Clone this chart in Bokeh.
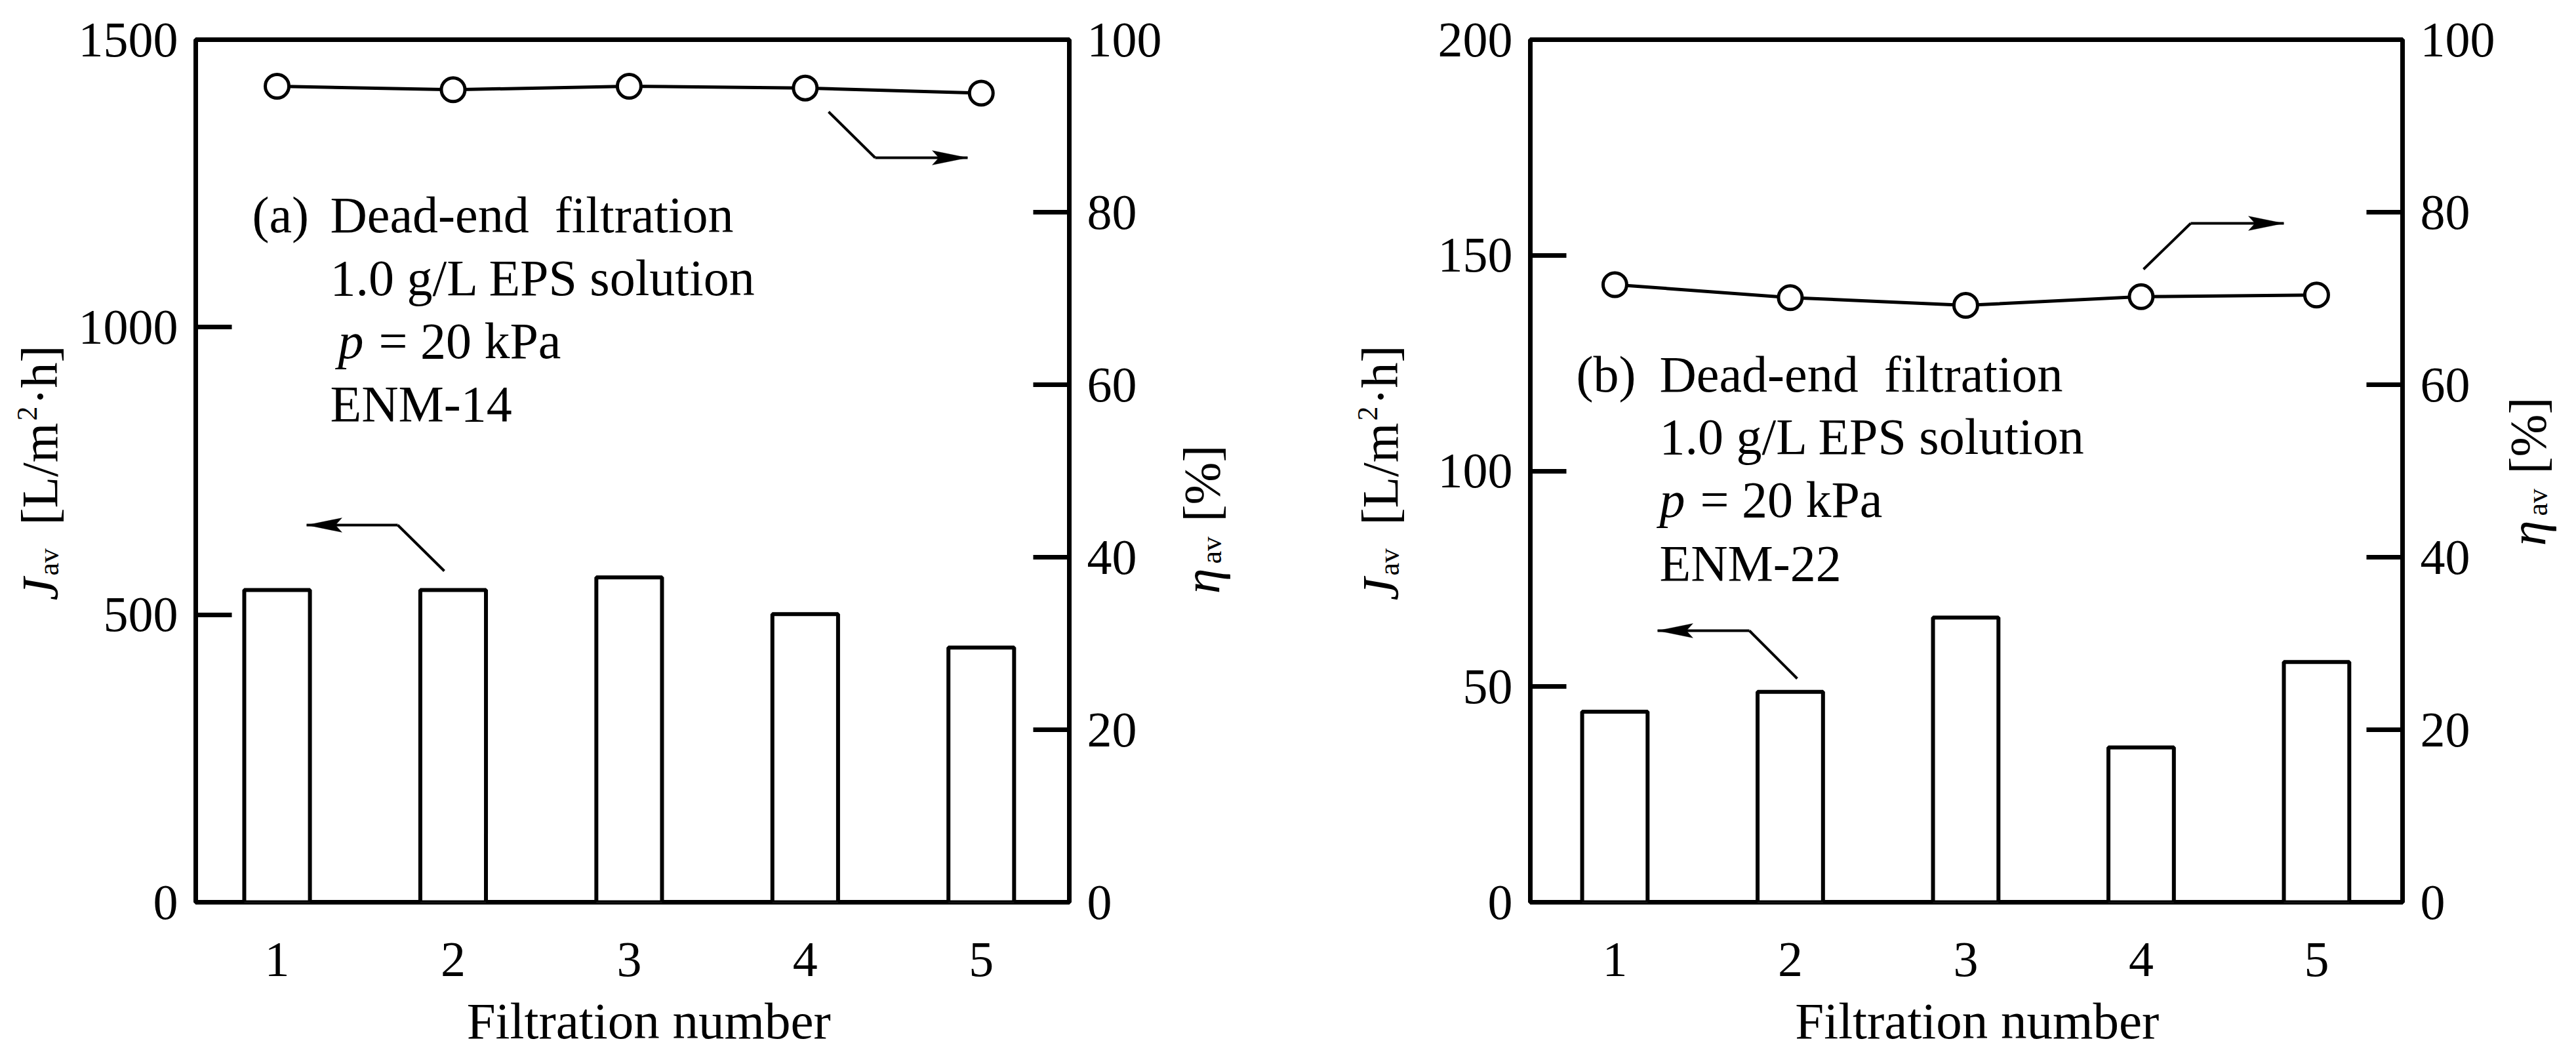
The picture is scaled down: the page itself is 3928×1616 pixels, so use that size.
import math
from bokeh.plotting import figure
from bokeh.models import Range1d, LinearAxis, FixedTicker, Label, Arrow, PolyAnnotation
from bokeh.layouts import row, column
from bokeh.embed import file_html
from bokeh.resources import INLINE

# ---------------- data ----------------
filtration_number = [1, 2, 3, 4, 5]
flux_a = [543, 543, 565, 501, 443]          # J_av [L/m2 h], ENM-14
eta_a = [94.6, 94.2, 94.6, 94.4, 93.8]      # eta_av [%], ENM-14
flux_b = [44.2, 48.8, 66.0, 35.9, 55.7]     # J_av [L/m2 h], ENM-22
eta_b = [71.6, 70.1, 69.2, 70.2, 70.4]      # eta_av [%], ENM-22
left_ticks_a = [0, 500, 1000, 1500]
left_ticks_b = [0, 50, 100, 150, 200]
right_ticks = [0, 20, 40, 60, 80, 100]
x_ticks = [1, 2, 3, 4, 5]

# ---------------- layout constants (page pixels) ----------------
FONT = "Liberation Serif"
TOTAL_H = 1612
BT = 60
FH = 1315
BB = 150
MAIN_H = BT + FH + BB
FRAME_BOTTOM = BT + FH
TICK_FS = 76
TXT_FS = 78
SUB_FS = 44
A90 = math.pi / 2
BASE_SHIFT = 0.3375   # label anchor -> alphabetic baseline offset (fraction of font size)

W_LA = 108
BL, BR = 190, 150
BLB = 150
FW_A, FW_B = 1332, 1330
W_PA = BL + FW_A + BR
W_RA = 403
W_PB = BLB + FW_B + BR
W_RB = 3924 - (W_LA + W_PA + W_RA + W_PB)

X_LA = 0
X_PA = X_LA + W_LA
X_RA = X_PA + W_PA
X_PB = X_RA + W_RA
X_RB = X_PB + W_PB


def label_fig(x0, y0, w, h):
    f = figure(width=w, height=h, x_range=Range1d(x0, x0 + w), y_range=Range1d(y0 + h, y0),
               output_backend="svg", toolbar_location=None, title=None,
               x_axis_location=None, y_axis_location=None, min_border=0)
    f.min_border_left = f.min_border_right = f.min_border_top = f.min_border_bottom = 0
    f.outline_line_color = None
    f.background_fill_color = "white"
    f.border_fill_color = "white"
    f.grid.visible = False
    return f


def put(f, x, y, text, size=TXT_FS, style="normal", rotated=False, align="left"):
    """(x, y): page position of the text's alphabetic baseline anchor."""
    off = BASE_SHIFT * size
    if rotated:
        ax, ay, ang = x - off, y, A90
    else:
        ax, ay, ang = x, y - off, 0.0
    f.add_layout(Label(x=ax, y=ay, text=text, angle=ang, text_font=FONT,
                       text_font_size=f"{size}px", text_font_style=style,
                       text_color="black", text_align=align, text_baseline="alphabetic"))


def j_label(f, bx):
    put(f, bx, 915, "J", style="italic", rotated=True)
    put(f, bx + 3, 877, "av", size=SUB_FS, rotated=True)
    put(f, bx, 800, "[L/m", rotated=True)
    put(f, bx - 30, 641, "2", size=SUB_FS, rotated=True)
    put(f, bx, 617, "\u00b7h]", rotated=True)


def eta_label(f, bx, y0):
    # pieces anchored at their upper ends (right-aligned along the reading direction)
    put(f, bx, y0 - 39, "\u03b7", style="italic", rotated=True, align="right")
    put(f, bx + 4, y0 - 46 - 41.5, "av", size=SUB_FS, rotated=True, align="right")
    put(f, bx, y0 - 110 - 117, "[%]", rotated=True, align="right")


def build(flux, eta, ymax, yticks, width, bl, br, page_x, xr, panel_tag, enm,
          text_x_tag, text_x, baselines, p_extra, arrows):
    fl = page_x + bl
    fw = width - bl - br
    x0, x1 = xr

    def dx(px):
        return x0 + (px - fl) / fw * (x1 - x0)

    def dy(py):
        return (FRAME_BOTTOM - py) / FH * ymax

    p = figure(width=width, height=MAIN_H, x_range=Range1d(*xr), y_range=Range1d(0, ymax),
               output_backend="svg", toolbar_location=None,
               min_border_left=bl, min_border_right=br, min_border_top=BT, min_border_bottom=BB)
    p.extra_y_ranges = {"eta": Range1d(0, 100)}
    p.background_fill_color = "white"
    p.border_fill_color = "white"
    p.xgrid.visible = False
    p.ygrid.visible = False
    p.outline_line_color = "black"
    p.outline_line_width = 7
    p.outline_line_alpha = 1.0

    p.vbar(x=filtration_number, top=flux, width=0.373, bottom=0,
           fill_color="white", line_color="black", line_width=6)
    p.line(x=filtration_number, y=eta, y_range_name="eta", line_color="black", line_width=5)
    p.scatter(x=filtration_number, y=eta, y_range_name="eta", size=36, marker="circle",
              fill_color="white", line_color="black", line_width=5)

    ra = LinearAxis(y_range_name="eta")
    p.add_layout(ra, "right")

    for ax, ticks in ((p.yaxis[0], yticks), (ra, right_ticks)):
        ax.ticker = FixedTicker(ticks=ticks)
        ax.major_tick_in = 55
        ax.major_tick_out = 0
        ax.minor_tick_in = 0
        ax.minor_tick_out = 0
        ax.major_tick_line_width = 7
        ax.major_tick_line_color = "black"
        ax.axis_line_color = None
        ax.major_label_standoff = 27
        ax.major_label_text_font = FONT
        ax.major_label_text_font_size = f"{TICK_FS}px"
        ax.major_label_text_color = "black"

    xa = p.xaxis[0]
    xa.ticker = FixedTicker(ticks=x_ticks)
    xa.major_tick_in = 0
    xa.major_tick_out = 0
    xa.minor_tick_in = 0
    xa.minor_tick_out = 0
    xa.axis_line_color = None
    xa.major_label_standoff = 62
    xa.major_label_text_font = FONT
    xa.major_label_text_font_size = f"{TICK_FS}px"
    xa.major_label_text_color = "black"

    off = BASE_SHIFT * TXT_FS

    def lab(px, py, text, style="normal"):
        p.add_layout(Label(x=dx(px), y=dy(py - off), text=text,
                           text_font=FONT, text_font_size=f"{TXT_FS}px", text_font_style=style,
                           text_color="black", text_align="left", text_baseline="alphabetic"))

    lab(text_x_tag, baselines[0], panel_tag)
    lab(text_x, baselines[0], "Dead-end\u00a0 filtration")
    lab(text_x, baselines[1], "1.0 g/L EPS solution")
    lab(text_x + p_extra, baselines[2], "p", style="italic")
    lab(text_x + p_extra + 62, baselines[2], "= 20 kPa")
    lab(text_x, baselines[3], enm)

    for (sx, sy), (kx, ky), (tx, ty) in arrows:
        p.add_layout(Arrow(end=None, x_start=dx(sx), y_start=dy(sy), x_end=dx(kx), y_end=dy(ky),
                           line_color="black", line_width=4))
        p.add_layout(Arrow(end=None, x_start=dx(kx), y_start=dy(ky), x_end=dx(tx), y_end=dy(ty),
                           line_color="black", line_width=4))
        d = 1 if tx > kx else -1
        hx = [tx, tx - d * 54, tx - d * 44, tx - d * 54]
        hy = [ty, ty - 11, ty, ty + 11]
        p.add_layout(PolyAnnotation(xs=[dx(v) for v in hx], ys=[dy(v) for v in hy],
                                    fill_color="black", fill_alpha=1.0,
                                    line_color="black", line_width=1))
    return p


pa = build(flux_a, eta_a, 1500, left_ticks_a, W_PA, BL, BR, X_PA, (0.538, 5.5), "(a)", "ENM-14",
           384, 503, [353, 449, 545, 641], 12,
           [((1263, 170), (1334, 240), (1475, 240)),
            ((677, 870), (606, 800), (467, 800))])
pb = build(flux_b, eta_b, 200, left_ticks_b, W_PB, BLB, BR, X_PB, (0.518, 5.49), "(b)", "ENM-22",
           2403, 2530, [596, 691, 787, 884], 0,
           [((3268, 410), (3340, 340), (3482, 340)),
            ((2740, 1034), (2667, 961), (2527, 961))])

XL_Y0 = MAIN_H
XL_H = TOTAL_H - MAIN_H

# axis-title strips
la = label_fig(X_LA, 0, W_LA, TOTAL_H)
j_label(la, 86)

ra_fig = label_fig(X_RA, 0, W_RA, TOTAL_H)
eta_label(ra_fig, 1858, 905)
j_label(ra_fig, 2130)

rb = label_fig(X_RB, 0, W_RB, TOTAL_H)
eta_label(rb, 3880, 832)

xla = label_fig(X_PA, XL_Y0, W_PA, XL_H)
put(xla, 975, 1583, "Filtration number", size=79, align="center")
xlb = label_fig(X_PB, XL_Y0, W_PB, XL_H)
put(xlb, 3018, 1583, "Filtration number", size=79, align="center")

layout = row(la, column(pa, xla), ra_fig, column(pb, xlb), rb)
open("out.html", "w").write(file_html(layout, INLINE))
